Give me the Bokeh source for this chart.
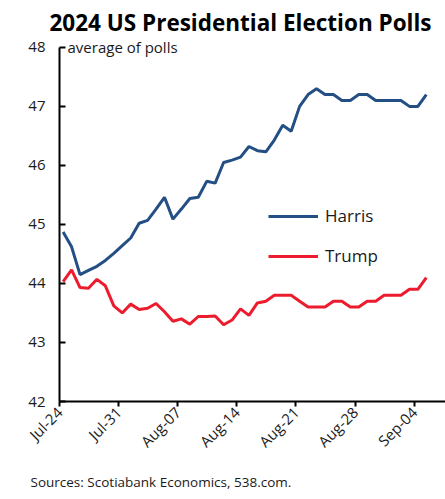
import math
from bokeh.plotting import figure
from bokeh.models import Range1d, FixedTicker, Label, Legend, LegendItem, Title
from bokeh.embed import file_html
from bokeh.resources import INLINE

# ---- data (daily averages, Jul-24 .. Sep-05) ----
day_index = list(range(44))  # days since Jul-24
harris = [44.87, 44.62, 44.15, 44.22, 44.29, 44.39, 44.51, 44.64, 44.77, 45.02,
          45.07, 45.26, 45.46, 45.09, 45.26, 45.44, 45.46, 45.73, 45.70, 46.05,
          46.09, 46.14, 46.32, 46.25, 46.23, 46.43, 46.68, 46.58, 47.00, 47.20,
          47.30, 47.20, 47.20, 47.10, 47.10, 47.20, 47.20, 47.10, 47.10, 47.10,
          47.10, 47.00, 47.00, 47.20]
trump = [44.03, 44.23, 43.93, 43.92, 44.07, 43.96, 43.62, 43.50, 43.65, 43.56,
         43.58, 43.66, 43.52, 43.36, 43.40, 43.31, 43.44, 43.44, 43.45, 43.30,
         43.38, 43.57, 43.46, 43.67, 43.70, 43.80, 43.80, 43.80, 43.70, 43.60,
         43.60, 43.60, 43.70, 43.70, 43.60, 43.60, 43.70, 43.70, 43.80, 43.80,
         43.80, 43.90, 43.90, 44.10]
tick_days = [0, 7, 14, 21, 28, 35, 42]
tick_labels = ["Jul-24", "Jul-31", "Aug-07", "Aug-14", "Aug-21", "Aug-28", "Sep-04"]
y_ticks = [42, 43, 44, 45, 46, 47, 48]

FONT = "Open Sans"
BLUE = "#234F85"
RED = "#EC1C2E"
TXT = "#1a1a1a"

x_pos = [d + 0.43 for d in day_index]

p = figure(width=445, height=499, output_backend="svg", toolbar_location=None,
           x_range=Range1d(0, 45.7), y_range=Range1d(42, 48.15),
           min_border_left=59, min_border_right=0, min_border_top=38,
           min_border_bottom=97)
p.outline_line_color = None
p.xgrid.grid_line_color = None
p.ygrid.grid_line_color = None
p.background_fill_color = "white"
p.border_fill_color = "white"

p.title.text = "2024 US Presidential Election Polls"
p.title.text_font = FONT
p.title.text_font_size = "22.5px"
p.title.text_font_style = "bold"
p.title.align = "left"
p.title.offset = -10
p.title.text_color = "#000000"
p.title.standoff = 2

r_h = p.line(x_pos, harris, line_color=BLUE, line_width=3)
r_t = p.line(x_pos, trump, line_color=RED, line_width=3)

# axes
xa = p.xaxis[0]
xa.ticker = FixedTicker(ticks=tick_days)
xa.major_label_overrides = {d: l for d, l in zip(tick_days, tick_labels)}
xa.major_label_orientation = math.pi / 4
xa.major_tick_in = 0
xa.major_tick_out = 5
xa.minor_tick_line_color = None
xa.axis_line_color = "black"
xa.axis_line_width = 2
xa.major_tick_line_width = 2
xa.major_label_text_font = FONT
xa.major_label_text_font_size = "15px"
xa.major_label_text_color = TXT
xa.major_label_standoff = 3

ya = p.yaxis[0]
ya.ticker = FixedTicker(ticks=y_ticks)
ya.bounds = (42, 48)
ya.major_tick_in = 6
ya.major_tick_out = 0
ya.minor_tick_line_color = None
ya.axis_line_color = "black"
ya.axis_line_width = 2
ya.major_tick_line_width = 2
ya.major_label_text_font = FONT
ya.major_label_text_font_size = "15px"
ya.major_label_text_color = TXT
ya.major_label_standoff = 14

p.add_layout(Label(x=0.95, y=48.0, text="average of polls", text_font=FONT,
                   text_font_size="15px", text_color=TXT,
                   text_baseline="middle"))

legend = Legend(items=[LegendItem(label="Harris", renderers=[r_h]),
                       LegendItem(label="Trump", renderers=[r_t])],
                location=(209, 134), orientation="vertical",
                glyph_width=50, glyph_height=20, label_height=20,
                spacing=17, padding=0, margin=0, label_standoff=7,
                label_text_font=FONT, label_text_font_size="17px",
                label_text_color=TXT,
                border_line_color=None, background_fill_alpha=0)
p.add_layout(legend, "center")

src = Title(text="Sources: Scotiabank Economics, 538.com.", align="left",
            text_font=FONT, text_font_size="13.5px", text_font_style="normal",
            text_color=TXT, offset=-29, standoff=18)
p.add_layout(src, "below")

open("out.html", "w").write(file_html(p, INLINE))
